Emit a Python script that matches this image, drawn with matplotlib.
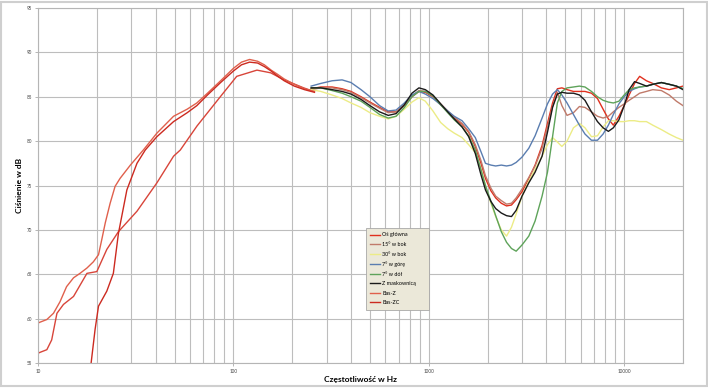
# Charakterystyki częstotliwościowe – odtworzenie wykresu
import matplotlib
matplotlib.use("Agg")
import matplotlib.pyplot as plt
from matplotlib.ticker import LogLocator, FixedLocator, FixedFormatter, NullFormatter
from matplotlib.patches import Rectangle

plt.rcParams['font.family'] = ['Lato', 'DejaVu Sans']

# --- dane: zakres niskich częstotliwości (bas) ---
bas_z_f = [10, 10.24, 11.1, 12.0, 12.96, 14.0, 15.2, 16.4, 17.8, 19.2, 20.4, 21.2, 22.1,
           23.4, 24.8, 26.3, 29.7, 34.6, 40.6, 49.4, 58, 65, 73.7, 86, 100, 110, 121,
           133, 144, 156, 169, 182, 205, 231, 260]
bas_z_db = [59.5, 59.6, 59.9, 60.6, 61.9, 63.6, 64.6, 65.1, 65.7, 66.4, 67.2, 68.9, 70.8,
            73.0, 74.9, 75.8, 77.3, 79.0, 80.9, 82.8, 83.6, 84.3, 85.4, 86.8, 88.2, 88.9, 89.2,
            89.0, 88.6, 88.0, 87.5, 87.0, 86.4, 85.9, 85.6]

bas_zc_f = [17.9, 18.7, 19.6, 20.4, 22.5, 24.3, 25.8, 28.5, 32.1, 35.4, 40.6, 49.4, 58, 65,
            73.7, 86, 100, 110, 121, 133, 144, 156, 169, 182, 205, 231, 260]
bas_zc_db = [51.0, 55.0, 58.8, 61.4, 63.1, 65.1, 69.6, 74.5, 77.5, 79.0, 80.5, 82.2, 83.2, 84.0,
             85.2, 86.6, 87.9, 88.6, 88.9, 88.8, 88.4, 87.9, 87.3, 86.8, 86.2, 85.8, 85.5]

bas_3_f = [10, 10.24, 11.1, 11.75, 12.5, 13.5, 15.2, 17.8, 20.0, 22.5, 25.8, 32.1, 40.6,
           49.4, 53.5, 65.1, 85.7, 104, 132, 155, 182, 229, 258]
bas_3_db = [56.1, 56.2, 56.5, 57.6, 60.6, 61.6, 62.5, 65.1, 65.3, 67.8, 69.8, 72.1, 75.3,
            78.3, 79.0, 81.7, 85.0, 87.3, 88.0, 87.7, 86.9, 86.0, 85.6]

# --- dane: pomiary pod kątem (wspólna siatka częstotliwości) ---
freq = [250, 280, 320, 360, 400, 450, 500, 560, 620, 680, 750, 820, 890, 960, 1050, 1150,
        1250, 1350, 1480, 1600, 1730, 1850, 1950, 2080, 2200, 2350, 2500, 2650, 2800, 3000,
        3250, 3500, 3800, 4050, 4300, 4550, 4800, 5100, 5500, 5900, 6300, 6800, 7300, 7800,
        8300, 8800, 9400, 10000, 10600, 11300, 12000, 13000, 14000, 15500, 17000, 18500, 20000]

os_glowna = [85.9, 86.1, 86.1, 85.9, 85.6, 85.0, 84.4, 83.8, 83.3, 83.3, 84.0, 85.0, 85.6, 85.5,
             85.0, 84.1, 83.3, 82.6, 81.9, 81.0, 79.4, 77.5, 75.8, 74.4, 73.6, 73.0, 72.7, 72.8,
             73.4, 74.3, 75.8, 77.3, 79.5, 82.0, 84.3, 85.9, 86.0, 85.8, 85.6, 85.6, 85.6, 85.4,
             84.8, 83.6, 82.5, 81.8, 82.8, 84.0, 85.2, 86.5, 87.3, 86.8, 86.5, 86.0, 85.8, 86.0, 86.2]

bok_15 = [85.8, 86.0, 86.0, 85.8, 85.5, 84.9, 84.3, 83.7, 83.2, 83.3, 84.1, 85.1, 85.7, 85.6,
          85.1, 84.2, 83.4, 82.7, 82.0, 81.1, 79.6, 77.8, 76.1, 74.7, 73.8, 73.3, 72.9, 73.0,
          73.6, 74.6, 75.9, 77.2, 79.2, 81.6, 83.9, 85.5, 84.0, 82.9, 83.2, 83.9, 83.8, 83.3,
          82.8, 82.6, 82.8, 83.3, 83.8, 84.2, 84.6, 85.0, 85.4, 85.6, 85.8, 85.7, 85.2, 84.5, 84.0]

bok_30 = [85.8, 85.6, 85.2, 84.8, 84.3, 83.8, 83.2, 82.8, 82.5, 82.8, 83.6, 84.4, 84.9, 84.5,
          83.4, 82.1, 81.4, 80.9, 80.4, 79.6, 78.7, 76.8, 74.9, 73.0, 71.5, 70.0, 69.3, 70.3,
          71.8, 73.8, 75.5, 76.8, 78.3, 79.6, 80.4, 79.9, 79.4, 80.0, 81.5, 82.0, 81.5, 80.5,
          80.6, 81.6, 82.3, 82.3, 82.2, 82.2, 82.3, 82.3, 82.2, 82.2, 81.8, 81.3, 80.8, 80.4, 80.1]

gora_7 = [86.2, 86.5, 86.8, 86.9, 86.6, 85.8, 85.0, 84.0, 83.4, 83.5, 84.3, 85.2, 85.6, 85.3,
          84.8, 84.1, 83.4, 82.8, 82.3, 81.4, 80.4, 78.8, 77.5, 77.3, 77.2, 77.3, 77.2, 77.3,
          77.6, 78.2, 79.2, 80.6, 82.6, 84.2, 85.3, 85.8, 85.2, 84.3, 83.0, 81.8, 80.8, 80.1,
          80.1, 80.8, 81.8, 83.0, 84.2, 85.0, 85.6, 85.9, 86.1, 86.2, 86.4, 86.6, 86.4, 86.2, 85.9]

dol_7 = [86.0, 86.0, 85.7, 85.4, 85.0, 84.5, 83.8, 83.0, 82.6, 82.8, 83.8, 85.0, 85.6, 85.6,
         85.1, 84.1, 83.2, 82.4, 81.6, 80.6, 79.0, 76.8, 75.0, 73.2, 71.6, 69.8, 68.6, 67.9,
         67.6, 68.3, 69.3, 71.0, 73.8, 76.5, 80.5, 84.3, 85.6, 86.0, 86.1, 86.2, 86.1, 85.6,
         85.0, 84.6, 84.4, 84.3, 84.5, 85.2, 85.8, 86.0, 86.1, 86.2, 86.4, 86.6, 86.4, 86.2, 85.9]

maskownica = [86.0, 86.0, 85.8, 85.6, 85.3, 84.7, 84.0, 83.3, 82.9, 83.1, 84.1, 85.4, 86.0, 85.8,
              85.2, 84.2, 83.3, 82.5, 81.6, 80.5, 78.6, 76.2, 74.5, 73.2, 72.4, 71.9, 71.6, 71.5,
              72.2, 73.8, 75.3, 76.5, 78.3, 81.0, 83.8, 85.3, 85.5, 85.4, 85.4, 85.2, 84.6, 83.3,
              82.2, 81.5, 81.1, 81.5, 82.4, 84.0, 85.8, 86.7, 86.5, 86.2, 86.4, 86.6, 86.4, 86.2, 85.8]

x_ticks = [10, 100, 1000, 10000]
x_labels = ['10', '100', '1000', '10000']
y_ticks = [55, 60, 65, 70, 75, 80, 85, 90, 95]

fig = plt.figure(figsize=(7.08, 3.88), dpi=100)
ax = fig.add_axes([38 / 708, 25 / 388, 645 / 708, 355 / 388])

ax.plot(bas_3_f, bas_3_db, color='#d8453a', lw=1.0, label='_nolegend_')

ax.plot(freq, os_glowna, color='#e0301e', lw=1.0, label='Oś główna')
ax.plot(freq, bok_15, color='#c07a6a', lw=1.0, label='15° w bok')
ax.plot(freq, bok_30, color='#ecec86', lw=1.0, label='30° w bok')
ax.plot(freq, gora_7, color='#5a7db0', lw=1.0, label='7° w górę')
ax.plot(freq, dol_7, color='#5ea35a', lw=1.0, label='7° w dół')
ax.plot(freq, maskownica, color='#1a1a1a', lw=1.0, label='Z maskownicą')
ax.plot(bas_z_f, bas_z_db, color='#e0604c', lw=1.0, label='Bas-Z')
ax.plot(bas_zc_f, bas_zc_db, color='#cc2a20', lw=1.0, label='Bas-ZC')

ax.set_xscale('log')
ax.set_xlim(10, 20000)
ax.set_ylim(55, 95)

ax.xaxis.set_major_locator(FixedLocator(x_ticks))
ax.xaxis.set_major_formatter(FixedFormatter(x_labels))
ax.xaxis.set_minor_locator(LogLocator(base=10, subs=range(2, 10), numticks=20))
ax.xaxis.set_minor_formatter(NullFormatter())
ax.set_yticks(y_ticks)

ax.grid(True, which='both', axis='x', color='#bdbdbd', lw=0.8)
ax.grid(True, which='major', axis='y', color='#bdbdbd', lw=0.8)
ax.tick_params(axis='both', which='both', labelsize=3.3, length=2, width=0.5,
               color='#999999', labelcolor='#444444', pad=2)
ax.tick_params(axis='x', which='minor', length=0)
for s in ax.spines.values():
    s.set_color('#b5b5b5')
    s.set_linewidth(0.8)

ax.set_xlabel('Częstotliwość w Hz', fontsize=6, fontweight='bold', labelpad=2)
ax.set_ylabel('Ciśnienie w dB', fontsize=6, fontweight='bold', labelpad=3)

leg = ax.legend(loc='upper left', bbox_to_anchor=(0.5085, 0.146, 0.0977, 0.234), mode='expand',
                fontsize=3.9, frameon=True, fancybox=False, facecolor='#ebe8d9',
                edgecolor='#a8a8a8', framealpha=1, handlelength=1.8, handletextpad=0.4,
                labelspacing=0.85, borderpad=0.8, borderaxespad=0)
leg.get_frame().set_linewidth(0.6)

fig.patches.append(Rectangle((0.002, 0.004), 0.996, 0.992, transform=fig.transFigure,
                             fill=False, edgecolor='#cfcfcf', lw=1.5))

fig.savefig('out.png', dpi=100)
